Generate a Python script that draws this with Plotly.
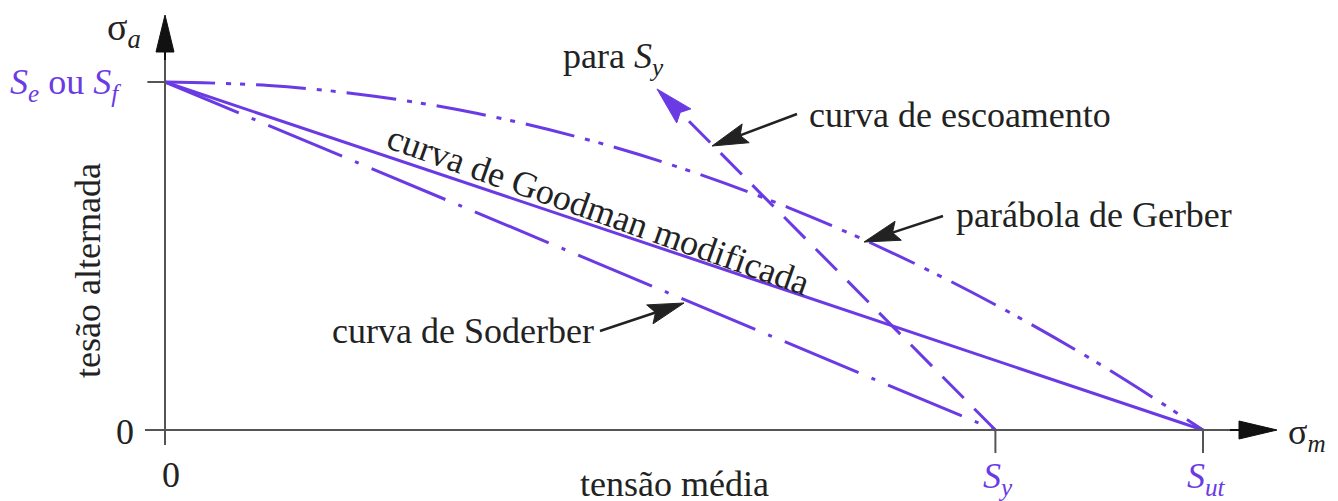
import math
import plotly.graph_objects as go

## DATA (normalised: S_ut = 1 on the mean axis, S_e = 1 on the alternating axis)
s_ut = 1.0
s_y = 0.8
s_e = 1.0

goodman_x = [0.0, 1.0]
goodman_y = [1.0, 0.0]

soderberg_x = [0.0, 0.8]
soderberg_y = [1.0, 0.0]

gerber_x = [0.0, 0.1, 0.2, 0.3, 0.4, 0.5, 0.6, 0.7, 0.8, 0.9, 1.0]
gerber_y = [1.0, 0.99, 0.96, 0.91, 0.84, 0.75, 0.64, 0.51, 0.36, 0.19, 0.0]

yield_x = [0.8, 0.474]
yield_y = [0.0, 0.98]

purple = '#6a3be4'
ink = '#222222'
axis_col = '#555555'
serif = 'Liberation Serif, Times New Roman, serif'
fs = 36

# scale of the drawing (pixels per unit) and position of the origin
PX_X, PX_Y = 1038.0, 348.0
X0, Y0 = 165.0, 430.0

fig = go.Figure()

fig.add_trace(go.Scatter(x=goodman_x, y=goodman_y, mode='lines',
                         line=dict(color=purple, width=3), hoverinfo='skip'))
fig.add_trace(go.Scatter(x=soderberg_x, y=soderberg_y, mode='lines',
                         line=dict(color=purple, width=3, dash='80px,14px,4px,14px'),
                         hoverinfo='skip'))
fig.add_trace(go.Scatter(x=gerber_x, y=gerber_y, mode='lines', line_shape='spline',
                         line=dict(color=purple, width=3, dash='50px,11px,5px,9px,5px,11px'),
                         hoverinfo='skip'))

shapes = []

def seg(x0, y0, x1, y1, color=axis_col, width=2, dash='solid'):
    shapes.append(dict(type='line', x0=x0, y0=y0, x1=x1, y1=y1, xref='x', yref='y',
                       line=dict(color=color, width=width, dash=dash)))

def to_px(x, y):
    return X0 + PX_X * x, Y0 - PX_Y * y

def to_data(px, py):
    return (px - X0) / PX_X, (Y0 - py) / PX_Y

def arrowhead(tip, tail, color=ink, length=36, half=10, notch=6, shaft=2.5, dash='solid'):
    # filled arrowhead at tip, shaft back to tail
    tx, ty = to_px(*tip)
    bx, by = to_px(*tail)
    d = math.hypot(tx - bx, ty - by)
    ux, uy = (tx - bx) / d, (ty - by) / d
    nx, ny = -uy, ux
    base = (tx - length * ux, ty - length * uy)
    left = to_data(base[0] + half * nx, base[1] + half * ny)
    right = to_data(base[0] - half * nx, base[1] - half * ny)
    inner = to_data(tx - (length - notch) * ux, ty - (length - notch) * uy)
    path = 'M {},{} L {},{} L {},{} L {},{} Z'.format(tip[0], tip[1], left[0], left[1],
                                                       inner[0], inner[1], right[0], right[1])
    shapes.append(dict(type='path', path=path, xref='x', yref='y',
                       fillcolor=color, line=dict(color=color, width=1)))
    seg(tail[0], tail[1], inner[0], inner[1], color=color, width=shaft, dash=dash)

# yield line, dashed with arrow head
arrowhead((yield_x[1], yield_y[1]), (yield_x[0], yield_y[0]), color=purple, length=38,
          half=10, notch=5, shaft=3, dash='30px,15px')

# axes
seg(-0.0193, 0, 1.04, 0)
seg(0, -0.043, 0, 1.09)
arrowhead(to_data(1277, 430), to_data(1230, 430), color='#111111', length=38, half=9, notch=0, shaft=2)
arrowhead(to_data(165, 15), to_data(165, 60), color='#111111', length=37, half=9, notch=0, shaft=2)
# ticks
seg(-0.017, s_e, 0, s_e)
seg(s_y, 0, s_y, -0.066)
seg(s_ut, 0, s_ut, -0.066)

# label pointers
arrowhead(to_data(712, 146), to_data(797, 114))
arrowhead(to_data(864, 242), to_data(943, 216))
arrowhead(to_data(684, 303), to_data(600, 331))

anns = []

def label(px, py, text, color=ink, size=fs, xanchor='center', angle=0):
    x, y = to_data(px, py)
    anns.append(dict(x=x, y=y, xref='x', yref='y', text=text, showarrow=False,
                     xanchor=xanchor, yanchor='middle', textangle=angle,
                     font=dict(family=serif, size=size, color=color)))

label(143, 30, 'σ<sub><i>a</i></sub>', xanchor='right', size=38)
label(123, 84, '<i>S</i><sub><i>e</i></sub> ou <i>S</i><sub><i>f</i></sub>', color=purple,
      xanchor='right')
label(136, 432, '0', xanchor='right')
label(171, 475, '0')
label(674, 484, 'tensão média')
label(998, 478, '<i>S</i><sub><i>y</i></sub>', color=purple)
label(1206, 478, '<i>S</i><sub><i>ut</i></sub>', color=purple)
label(1286, 434, 'σ<sub><i>m</i></sub>', xanchor='left')
label(88, 271, 'tesão alternada', angle=-90)
label(613, 58, 'para <i>S</i><sub><i>y</i></sub>')
label(807, 115, 'curva de escoamento', xanchor='left')
label(954, 215, 'parábola de Gerber', xanchor='left')
label(330, 331, 'curva de Soderber', xanchor='left')
label(598, 210, 'curva de Goodman modificada', angle=19.5)

# the page body adds an 8 px offset, so ranges are set for screen pixels 8..1346 / 8..509
fig.update_layout(
    width=1338, height=501,
    margin=dict(l=0, r=0, t=0, b=0),
    plot_bgcolor='white', paper_bgcolor='white',
    showlegend=False,
    shapes=shapes,
    annotations=anns,
    xaxis=dict(range=[(8 - X0) / PX_X, (1346 - X0) / PX_X], visible=False, fixedrange=True),
    yaxis=dict(range=[(Y0 - 509) / PX_Y, (Y0 - 8) / PX_Y], visible=False, fixedrange=True),
)

fig.write_html("out.html")
